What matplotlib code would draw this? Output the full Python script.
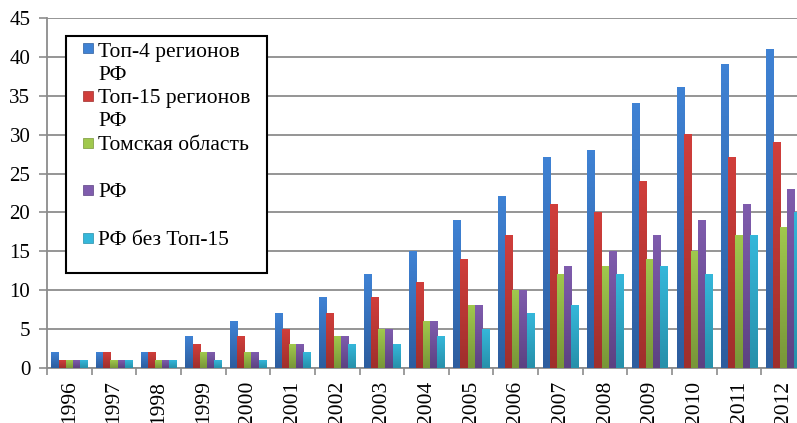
import matplotlib
matplotlib.use("Agg")
import matplotlib.pyplot as plt
import numpy as np
from matplotlib.colors import LinearSegmentedColormap
from matplotlib.patches import Rectangle

plt.rcParams["font.family"] = "serif"
plt.rcParams["font.serif"] = ["Liberation Serif", "DejaVu Serif"]
SERIF = "Liberation Serif"

years = ["1996", "1997", "1998", "1999", "2000", "2001", "2002", "2003", "2004",
         "2005", "2006", "2007", "2008", "2009", "2010", "2011", "2012"]
top4 = [2, 2, 2, 4, 6, 7, 9, 12, 15, 19, 22, 27, 28, 34, 36, 39, 41]
top15 = [1, 2, 2, 3, 4, 5, 7, 9, 11, 14, 17, 21, 20, 24, 30, 27, 29]
tomsk = [1, 1, 1, 2, 2, 3, 4, 5, 6, 8, 10, 12, 13, 14, 15, 17, 18]
rf = [1, 1, 1, 2, 2, 3, 4, 5, 6, 8, 10, 13, 15, 17, 19, 21, 23]
rf_wo15 = [1, 1, 1, 1, 1, 2, 3, 3, 4, 5, 7, 8, 12, 13, 12, 17, 20]

series = [top4, top15, tomsk, rf, rf_wo15]
labels = [["Топ-4 регионов", "РФ"], ["Топ-15 регионов", "РФ"],
          ["Томская область"], ["РФ"], ["РФ без Топ-15"]]
# (верх, низ) градиента столбцов
colors = [("#3f82d4", "#2d5d9e"), ("#d03e3b", "#9f2f2c"), ("#a0c84d", "#789638"),
          ("#7f5cad", "#5c4282"), ("#35b7da", "#2790aa")]

W, H = 797, 423
fig = plt.figure(figsize=(W / 100, H / 100), dpi=100)
ax = fig.add_axes([47 / W, (H - 368) / H, 759 / W, 350 / H])

x = np.arange(len(years))
bw = 0.16
for i, (vals, (light, dark)) in enumerate(zip(series, colors)):
    pos = x - 0.4 + bw * (i + 0.5)
    bars = ax.bar(pos, vals, bw, color=light, zorder=3)
    cmap = LinearSegmentedColormap.from_list("g", [dark, light])
    for r in bars:
        r.set_visible(False)
        grad = np.linspace(0, 1, 64).reshape(-1, 1)
        ax.imshow(grad, extent=[r.get_x(), r.get_x() + r.get_width(), 0, r.get_height()],
                  origin="lower", aspect="auto", cmap=cmap, zorder=3)

ax.set_xlim(-0.5, len(years) - 0.5)
ax.set_ylim(0, 45)
ax.set_yticks(np.arange(0, 46, 5))
ax.set_yticklabels([str(v) for v in range(0, 46, 5)], family=SERIF, fontsize=15)
ax.set_xticks(x)
ax.set_xticklabels(years, rotation=90, family=SERIF, fontsize=15.5)
ax.set_xticks(np.arange(-0.5, len(years), 1), minor=True)
ax.tick_params(axis="x", which="major", length=0, pad=9)
ax.tick_params(axis="x", which="minor", length=5, color="#8c8c8c", width=1.2)
ax.tick_params(axis="y", length=6, color="#8c8c8c", width=1.2, pad=6)

ax.grid(axis="y", color="#8c8c8c", linewidth=1.3, zorder=0)
ax.set_axisbelow(True)
for s in ["top", "right"]:
    ax.spines[s].set_visible(False)
for s in ["left", "bottom"]:
    ax.spines[s].set_color("#8c8c8c")
    ax.spines[s].set_linewidth(1.3)


def px(xp, yp):
    return xp / W, 1 - yp / H


# легенда в рамке
bx0, by0 = px(66, 273)
bx1, by1 = px(267, 36)
fig.add_artist(Rectangle((bx0, by0), bx1 - bx0, by1 - by0, transform=fig.transFigure,
                         facecolor="white", edgecolor="black", linewidth=1.5, zorder=10))
marker_y = [48, 96, 143, 190, 238]
base_y = [[57, 80], [103, 126], [150], [197], [245]]
for (light, dark), lab, my, bys in zip(colors, labels, marker_y, base_y):
    mx0, my0 = px(83, my + 5)
    fig.add_artist(Rectangle((mx0, my0), 10 / W, 10 / H, transform=fig.transFigure,
                             facecolor=light, edgecolor=dark, linewidth=0.5, zorder=11))
    for line, by in zip(lab, bys):
        tx, ty = px(98, by)
        fig.text(tx, ty, line, family=SERIF, fontsize=15.5, va="baseline", ha="left",
                 zorder=12)

fig.savefig("out.png", dpi=100)
